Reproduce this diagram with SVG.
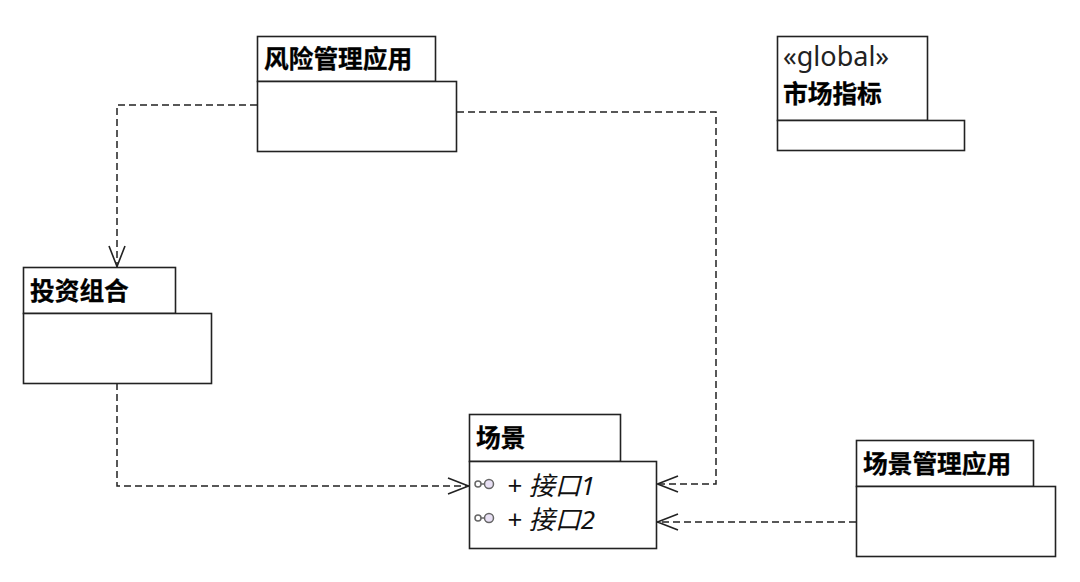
<svg xmlns="http://www.w3.org/2000/svg" width="1080" height="582" viewBox="0 0 1080 582">
<defs><marker id="a" markerWidth="24" markerHeight="20" refX="22" refY="10" orient="auto" markerUnits="userSpaceOnUse"><path d="M1 2L21.500 10L1 18" fill="none" stroke="#222" stroke-width="1.6"/></marker></defs>
<style>
.b{fill:#fff;stroke:#222;stroke-width:1.6}
.t{font:700 24.7px "Noto Sans CJK SC","Liberation Sans",sans-serif;fill:#000;stroke:#000;stroke-width:.3}
.g{font:27px "Noto Sans","Liberation Sans",sans-serif;fill:#222}
.i{font:italic 26px "Noto Sans","Noto Sans CJK SC",sans-serif;fill:#111}
.c{fill:none;stroke:#222;stroke-width:1.5;stroke-dasharray:7 4}
.o{fill:#e8e0f4;stroke:#666;stroke-width:1.5}
.s{fill:#fff;stroke:#666;stroke-width:1.5}
</style>
<rect width="1080" height="582" fill="#fff"/>
<g id="connectors">
<path class="c" d="M257 105H117V267" marker-end="url(#a)"/>
<path class="c" d="M457 112H716V484H657" marker-end="url(#a)"/>
<path class="c" d="M117 383V486H469" marker-end="url(#a)"/>
<path class="c" d="M856 522H657" marker-end="url(#a)"/>
</g>
<g id="risk"><rect class="b" x="257.500" y="36.500" width="178" height="45"/><rect class="b" x="257.500" y="81.500" width="199" height="70"/><text class="t" x="264" y="68">风险管理应用</text></g>
<g id="market"><rect class="b" x="777.500" y="36.500" width="150" height="84"/><rect class="b" x="777.500" y="120.500" width="187" height="30"/><text class="g" x="783" y="66">«global»</text><text class="t" x="783" y="103">市场指标</text></g>
<g id="portfolio"><rect class="b" x="23.500" y="267.500" width="152" height="46"/><rect class="b" x="23.500" y="313.500" width="188" height="70"/><text class="t" x="30" y="300">投资组合</text></g>
<g id="scene"><rect class="b" x="469.500" y="414.500" width="151" height="47"/><rect class="b" x="469.500" y="461.500" width="187" height="87"/><text class="t" x="476" y="447">场景</text>
<circle class="s" cx="478" cy="484" r="3"/><circle class="o" cx="489" cy="484" r="4.500"/><path class="s" d="M481 484H485"/><text class="i" x="507" y="495">+ 接口1</text>
<circle class="s" cx="478" cy="518" r="3"/><circle class="o" cx="489" cy="518" r="4.500"/><path class="s" d="M481 518H485"/><text class="i" x="507" y="529">+ 接口2</text></g>
<g id="sceneApp"><rect class="b" x="856.500" y="440.500" width="177" height="46"/><rect class="b" x="856.500" y="486.500" width="199" height="70"/><text class="t" x="863" y="473">场景管理应用</text></g>
</svg>
